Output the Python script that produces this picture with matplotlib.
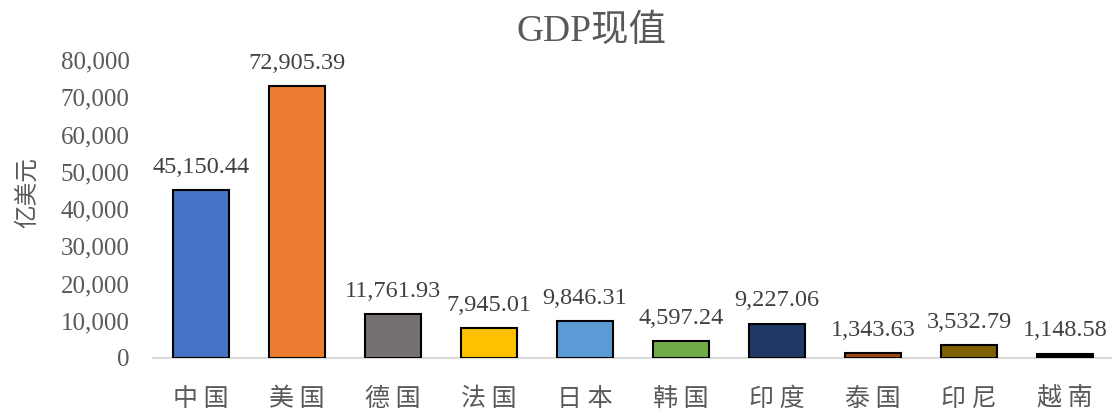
import numpy as np
import matplotlib.pyplot as plt

countries = ['中国', '美国', '德国', '法国', '日本', '韩国', '印度', '泰国', '印尼', '越南']
gdp = [45150.44, 72905.39, 11761.93, 7945.01, 9846.31, 4597.24, 9227.06, 1343.63, 3532.79, 1148.58]
colors = ['#4472C4', '#ED7D31', '#767171', '#FFC000', '#5B9BD5',
          '#70AD47', '#203864', '#9E480E', '#7F6000', '#000000']

grey = '#595959'
serif = ['Liberation Serif', 'Noto Sans CJK SC']

fig = plt.figure(figsize=(11.12, 4.12), dpi=100)
ax = fig.add_axes([153 / 1112, 1 - 358 / 412, 960 / 1112, 298 / 412])

x = np.arange(len(countries))
ax.bar(x, gdp, width=0.58, color=colors, edgecolor='black', linewidth=1.5, zorder=3)

for xi, v in zip(x, gdp):
    ax.text(xi, v + 3300, f'{v:,.2f}', ha='center', va='bottom',
            fontsize=17.5, color='#404040', family='Liberation Serif')

ax.set_xlim(-0.5, len(countries) - 0.5)
ax.set_ylim(0, 80000)
ax.set_yticks(np.arange(0, 80001, 10000))
ax.set_yticklabels([f'{t:,}' for t in range(0, 80001, 10000)],
                   family='Liberation Serif', fontsize=18, color=grey)
ax.set_xticks(x)
ax.set_xticklabels([' '.join(c) for c in countries],
                   family=['Noto Sans CJK SC', 'DejaVu Sans'], fontsize=18, color=grey)
ax.tick_params(axis='both', length=0)
ax.tick_params(axis='y', pad=17)
ax.tick_params(axis='x', pad=20)

for s in ['top', 'right', 'left']:
    ax.spines[s].set_visible(False)
ax.spines['bottom'].set_color('#D9D9D9')
ax.spines['bottom'].set_linewidth(1.5)

fig.text(27 / 1112, 1 - 193 / 412, '亿美元', rotation=90, ha='center', va='center',
         family='Noto Sans CJK SC', fontsize=17, color=grey)
fig.text(591 / 1112, 1 - 32 / 412, 'GDP现值', ha='center', va='center',
         family=serif, fontsize=27, color=grey)

fig.savefig('out.png', dpi=100)
